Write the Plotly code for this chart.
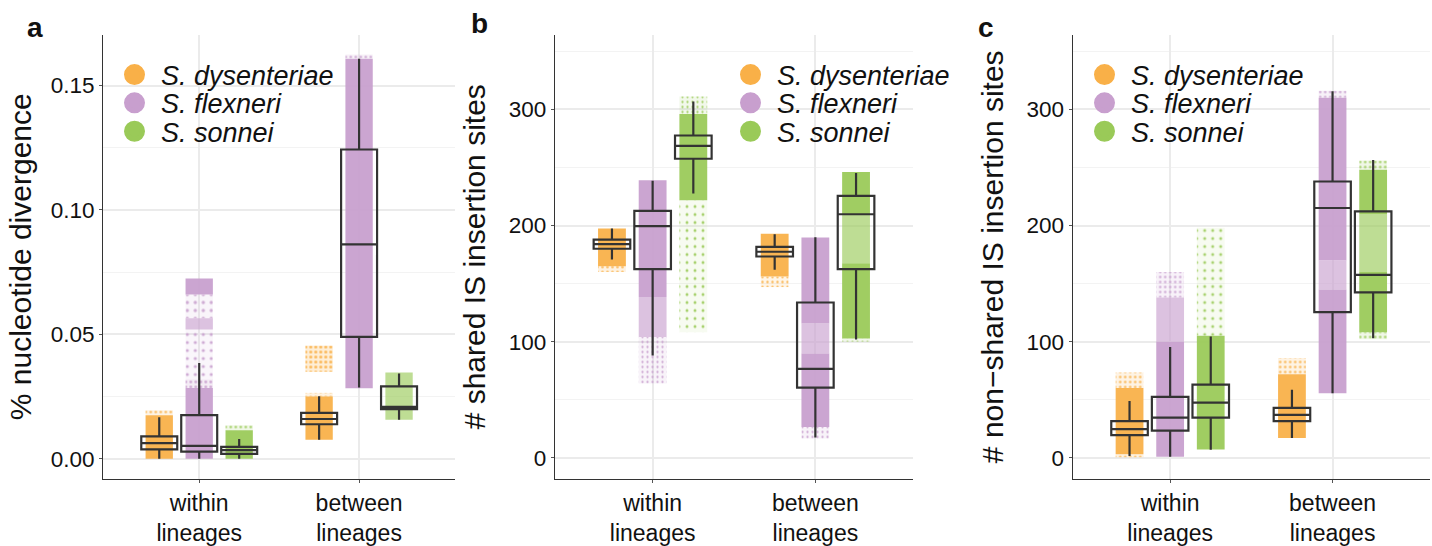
import plotly.graph_objects as go

# ---------------- data ----------------
CATS = ["within lineages", "between lineages"]
CAT_TEXT = ["within<br>lineages", "between<br>lineages"]
SPECIES = ["S. dysenteriae", "S. flexneri", "S. sonnei"]
COLORS = ["#F9B048", "#C89FCE", "#9ACA58"]

# box statistics, rows = species (dys, flex, son), cols = [within, between]
# panel a: % nucleotide divergence
a_lower  = [[0.0000, 0.0077], [0.0000, 0.0287], [0.0000, 0.0157]]
a_q1     = [[0.0038, 0.0139], [0.0029, 0.0490], [0.0020, 0.0200]]
a_median = [[0.0063, 0.0160], [0.0052, 0.0862], [0.0035, 0.0209]]
a_q3     = [[0.0090, 0.0185], [0.0176, 0.1243], [0.0048, 0.0291]]
a_upper  = [[0.0167, 0.0251], [0.0385, 0.1608], [0.0080, 0.0343]]
# point clouds: (category, species, low, high, relative density)
a_clouds = [
    (0, 0, 0.0000, 0.0175, 1.0), (0, 0, 0.0175, 0.0195, 0.3),
    (1, 0, 0.0077, 0.0250, 1.0), (1, 0, 0.0250, 0.0265, 0.3), (1, 0, 0.0350, 0.0455, 0.55),
    (0, 1, 0.0000, 0.0285, 1.0), (0, 1, 0.0285, 0.0320, 0.45), (0, 1, 0.0320, 0.0520, 0.12),
    (0, 1, 0.0520, 0.0565, 0.7), (0, 1, 0.0565, 0.0660, 0.15), (0, 1, 0.0660, 0.0725, 1.0),
    (1, 1, 0.0284, 0.1608, 1.0), (1, 1, 0.1608, 0.1625, 0.3),
    (0, 2, 0.0000, 0.0115, 1.0), (0, 2, 0.0115, 0.0135, 0.3),
    (1, 2, 0.0157, 0.0347, 0.8),
]

# panel b: # shared IS insertion sites
b_lower  = [[170.7, 162.0], [88.0, 17.4], [227.6, 101.8]]
b_q1     = [[180.0, 173.3], [162.5, 60.4], [257.5, 162.5]]
b_median = [[184.0, 177.4], [199.5, 76.5], [268.6, 209.7]]
b_q3     = [[187.8, 181.6], [212.6, 133.7], [277.5, 225.5]]
b_upper  = [[197.5, 192.5], [238.5, 190.0], [306.9, 245.2]]
b_clouds = [
    (0, 0, 165.0, 197.5, 1.0), (0, 0, 160.0, 165.0, 0.35),
    (1, 0, 156.0, 193.0, 1.0), (1, 0, 147.0, 156.0, 0.25),
    (0, 1, 138.5, 239.0, 1.0), (0, 1, 104.0, 138.5, 0.8), (0, 1, 64.0, 104.0, 0.2),
    (1, 1, 115.6, 189.6, 1.0), (1, 1, 89.7, 115.6, 0.7), (1, 1, 26.5, 89.7, 1.0), (1, 1, 16.5, 26.5, 0.2),
    (0, 2, 221.8, 296.0, 1.0), (0, 2, 296.0, 311.0, 0.2), (0, 2, 108.0, 221.8, 0.08),
    (1, 2, 210.0, 246.0, 1.0), (1, 2, 167.5, 210.0, 0.8), (1, 2, 102.7, 167.5, 1.0), (1, 2, 100.0, 102.7, 0.2),
]

# panel c: # non-shared IS insertion sites
c_lower  = [[1.5, 17.1], [0.9, 55.5], [6.9, 102.9]]
c_q1     = [[19.5, 31.5], [23.4, 125.4], [34.5, 142.5]]
c_median = [[24.6, 36.9], [34.5, 215.1], [47.4, 157.5]]
c_q3     = [[31.5, 42.9], [52.5, 237.9], [63.0, 212.1]]
c_upper  = [[48.9, 58.5], [95.4, 315.6], [104.4, 256.5]]
c_clouds = [
    (0, 0, 3.0, 60.0, 1.0), (0, 0, 60.0, 73.5, 0.3), (0, 0, 0.5, 3.0, 0.3),
    (1, 0, 17.0, 72.0, 1.0), (1, 0, 72.0, 86.0, 0.3),
    (0, 1, 0.9, 100.0, 1.0), (0, 1, 100.0, 138.0, 0.8), (0, 1, 138.0, 160.0, 0.25),
    (1, 1, 170.0, 310.0, 1.0), (1, 1, 145.0, 170.0, 0.75), (1, 1, 55.5, 145.0, 1.0), (1, 1, 310.0, 316.0, 0.3),
    (0, 2, 7.0, 105.0, 1.0), (0, 2, 105.0, 198.0, 0.08),
    (1, 2, 210.0, 248.0, 1.0), (1, 2, 160.0, 210.0, 0.8), (1, 2, 108.0, 160.0, 1.0),
    (1, 2, 102.0, 108.0, 0.3), (1, 2, 248.0, 256.0, 0.3),
]

Y_TITLES = ["% nucleotide divergence", "# shared IS insertion sites", "# non\u2212shared IS insertion sites"]
PANEL_LABELS = ["a", "b", "c"]

# ---------------- layout constants ----------------
W, H = 1432, 546
FONT = "Liberation Sans, Arial, sans-serif"
X_DOM = [(103.3 / W, 455.0 / W), (555.0 / W, 913.0 / W), (1072.7 / W, 1430.0 / W)]
Y_DOM = (1 - 479.0 / H, 1 - 34.5 / H)
Y_RANGE = [[-0.0081, 0.1705], [-18.3, 364.5], [-18.3, 364.5]]
Y_DTICK = [0.05, 100, 100]
Y_FMT = [".2f", "d", "d"]
TITLE_STANDOFF = [10, 14, 14]
LEG_X = [135, 751, 1105]
LEG_Y = [75, 103.3, 131.7]
LABEL_POS = [(35, 27), (480, 24), (986, 27)]
CLOUD_WIDTH = 0.171


def rgba(hexc, a):
    h = hexc.lstrip("#")
    r, g, b = int(h[0:2], 16), int(h[2:4], 16), int(h[4:6], 16)
    return f"rgba({r},{g},{b},{a})"


def cloud_marker(si, dens):
    c = COLORS[si]
    if dens >= 0.95:
        return dict(color=rgba(c, 0.94), line=dict(width=0))
    if dens >= 0.6:
        return dict(color=rgba(c, 0.64), line=dict(width=0))
    return dict(color=rgba(c, 0.06 + dens * 0.3), line=dict(width=0),
                pattern=dict(shape=".", fgcolor=c, fgopacity=0.85,
                             size=5 if dens >= 0.2 else 8,
                             solidity=0.08 + dens * 0.4, fillmode="overlay"))


panels = [
    dict(lower=a_lower, q1=a_q1, median=a_median, q3=a_q3, upper=a_upper, clouds=a_clouds),
    dict(lower=b_lower, q1=b_q1, median=b_median, q3=b_q3, upper=b_upper, clouds=b_clouds),
    dict(lower=c_lower, q1=c_q1, median=c_median, q3=c_q3, upper=c_upper, clouds=c_clouds),
]

fig = go.Figure()
layout = {}

for p, P in enumerate(panels):
    xr = "x" if p == 0 else f"x{p + 1}"
    yr = "y" if p == 0 else f"y{p + 1}"
    # jittered point clouds (as density bands)
    for si in range(3):
        for (ci, s, lo, hi, dens) in P["clouds"]:
            if s != si:
                continue
            fig.add_trace(go.Bar(
                x=[CATS[ci]], base=[lo], y=[hi - lo], xaxis=xr, yaxis=yr,
                offsetgroup=SPECIES[si], alignmentgroup=f"bars{p}", width=CLOUD_WIDTH,
                marker=cloud_marker(si, dens), showlegend=False, hoverinfo="skip"))
    # boxes
    for si in range(3):
        fig.add_trace(go.Box(
            x=CATS, q1=P["q1"][si], median=P["median"][si], q3=P["q3"][si],
            lowerfence=P["lower"][si], upperfence=P["upper"][si],
            xaxis=xr, yaxis=yr, offsetgroup=SPECIES[si], alignmentgroup=f"boxes{p}",
            fillcolor="rgba(0,0,0,0)", line=dict(color="#333333", width=2.2),
            whiskerwidth=0, boxpoints=False, showlegend=False, hoverinfo="skip"))
    # legend entries (one legend per entry for tight spacing)
    for si in range(3):
        idx = p * 3 + si + 1
        lname = "legend" if idx == 1 else f"legend{idx}"
        fig.add_trace(go.Scatter(
            x=[None], y=[None], mode="markers", name=f"<i>{SPECIES[si]}</i>",
            marker=dict(size=16, color=COLORS[si], line=dict(color=COLORS[si], width=5)),
            xaxis=xr, yaxis=yr, legend=lname, showlegend=True, hoverinfo="skip"))
        layout[lname] = dict(x=(LEG_X[p] - 27) / W, xanchor="left",
                             y=1 - LEG_Y[si] / H, yanchor="middle",
                             bgcolor="rgba(0,0,0,0)", borderwidth=0, itemwidth=43,
                             font=dict(family=FONT, size=27, color="#111111"))
    xkey = "xaxis" if p == 0 else f"xaxis{p + 1}"
    ykey = "yaxis" if p == 0 else f"yaxis{p + 1}"
    layout[xkey] = dict(
        domain=list(X_DOM[p]), anchor=yr, type="category",
        categoryorder="array", categoryarray=CATS,
        tickvals=CATS, ticktext=CAT_TEXT, range=[-0.6, 1.6],
        showgrid=True, gridcolor="#EBEBEB", gridwidth=2,
        showline=True, linecolor="#333333", linewidth=1.3,
        ticks="outside", ticklen=3, tickcolor="#555555", tickwidth=1,
        tickfont=dict(family=FONT, size=23, color="#111111"), zeroline=False)
    layout[ykey] = dict(
        domain=list(Y_DOM), anchor=xr, range=Y_RANGE[p],
        tick0=0, dtick=Y_DTICK[p], tickformat=Y_FMT[p],
        showgrid=True, gridcolor="#EBEBEB", gridwidth=2,
        minor=dict(dtick=Y_DTICK[p] / 2, tick0=0, showgrid=True,
                   gridcolor="#F3F3F3", gridwidth=1.2, ticks=""),
        showline=True, linecolor="#333333", linewidth=1.3,
        ticks="outside", ticklen=3, tickcolor="#555555", tickwidth=1,
        tickfont=dict(family=FONT, size=22.5, color="#111111"), zeroline=False,
        title=dict(text=Y_TITLES[p], standoff=TITLE_STANDOFF[p],
                   font=dict(family=FONT, size=30, color="#111111")))

annotations = []
for p in range(3):
    lx, ly = LABEL_POS[p]
    annotations.append(dict(text=f"<b>{PANEL_LABELS[p]}</b>", x=lx / W, y=1 - ly / H,
                            xref="paper", yref="paper", showarrow=False,
                            xanchor="center", yanchor="middle",
                            font=dict(family=FONT, size=28, color="#111111")))

fig.update_layout(
    width=W, height=H, margin=dict(l=0, r=0, t=0, b=0),
    paper_bgcolor="white", plot_bgcolor="white",
    barmode="group", bargap=0.25, bargroupgap=0.0,
    boxmode="group", boxgap=0.25, boxgroupgap=0.1,
    font=dict(family=FONT), annotations=annotations, **layout)

fig.write_html("out.html", config={"displayModeBar": False},
               post_script="document.body.style.margin='0';document.body.style.overflow='hidden';")
